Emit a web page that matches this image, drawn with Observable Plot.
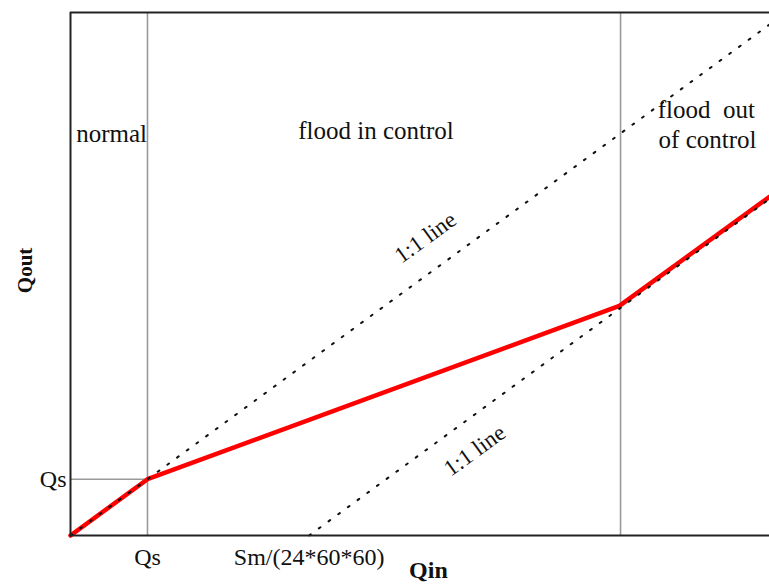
<!DOCTYPE html>
<html>
<head>
<meta charset="utf-8">
<script src="https://cdn.jsdelivr.net/npm/d3@7"></script>
<script src="https://cdn.jsdelivr.net/npm/@observablehq/plot@0.6"></script>
<style>
  html, body { margin: 0; padding: 0; background: #fff; }
</style>
</head>
<body>
<div id="chart"></div>
<script>
// ---- data (arbitrary units, Qs = 10) ----
const qs = 10;
const sm = 31;                 // Sm/(24*60*60)
const xMax = 90.8;
const yMax = 92.94;
const outflowX = [0, 10, 71.3, 90.8];
const outflowY = [0, 10, 40.8, 60.2];
const lineAX = [0, 90.8];
const lineAY = [0, 90.8];
const lineBX = [31, 90.8];
const lineBY = [0, 59.8];
const regionBounds = [10, 71.45];
const regionLabels = ["normal", "flood in control", "flood\u00a0 out", "of control"];
const regionLabelX = [5.33, 39.68, 82.6, 82.75];
const regionLabelY = [71.26, 71.87, 75.7, 70.2];
const lineLabels = ["1:1 line", "1:1 line"];
const lineLabelX = [46.1, 52.5];
const lineLabelY = [52.96, 15.1];

const outflow = outflowX.map((x, i) => ({x, y: outflowY[i]}));
const lineA = lineAX.map((x, i) => ({x, y: lineAY[i]}));
const lineB = lineBX.map((x, i) => ({x, y: lineBY[i]}));
const regions = regionLabels.map((t, i) => ({t, x: regionLabelX[i], y: regionLabelY[i]}));
const lines = lineLabels.map((t, i) => ({t, x: lineLabelX[i], y: lineLabelY[i]}));

const serif = "Liberation Serif, Times New Roman, serif";

const chart = Plot.plot({
  width: 769,
  height: 586,
  marginLeft: 70,
  marginRight: 0,
  marginTop: 12,
  marginBottom: 51,
  x: {domain: [0, xMax], axis: null},
  y: {domain: [0, yMax], axis: null},
  style: {fontFamily: serif, background: "#fff", overflow: "hidden"},
  marks: [
    // region boundaries
    Plot.ruleX(regionBounds, {y1: 0, y2: yMax, stroke: "#9a9a9a", strokeWidth: 1.6}),
    Plot.ruleY([qs], {x1: 0, x2: qs, stroke: "#9a9a9a", strokeWidth: 1.6}),
    // outflow curve
    Plot.line(outflow, {x: "x", y: "y", stroke: "#ff0000", strokeWidth: 4.5, strokeLinejoin: "round"}),
    // 1:1 lines (dotted)
    Plot.line(lineA, {x: "x", y: "y", stroke: "#111", strokeWidth: 2, strokeDasharray: "2 10"}),
    Plot.line(lineB, {x: "x", y: "y", stroke: "#111", strokeWidth: 2, strokeDasharray: "2 10"}),
    // frame
    Plot.ruleX([0], {stroke: "#222", strokeWidth: 2}),
    Plot.ruleY([0], {stroke: "#222", strokeWidth: 2}),
    Plot.ruleY([yMax], {stroke: "#222", strokeWidth: 2}),
    // labels
    Plot.text(regions, {x: "x", y: "y", text: "t", fontSize: 25, fill: "#111", textAnchor: "middle", lineAnchor: "middle"}),
    Plot.text(lines, {x: "x", y: "y", text: "t", fontSize: 23, fill: "#111", rotate: -36, textAnchor: "middle", lineAnchor: "middle"}),
    // tick-like labels
    Plot.text(["Qs"], {x: 0, y: qs, text: d => d, dx: -4, fontSize: 24, fill: "#111", textAnchor: "end", lineAnchor: "middle"}),
    Plot.text(["Qs"], {x: qs, y: 0, text: d => d, dy: 12, fontSize: 24, fill: "#111", textAnchor: "middle", lineAnchor: "top"}),
    Plot.text(["Sm/(24*60*60)"], {x: sm, y: 0, text: d => d, dy: 12, fontSize: 24, fill: "#111", textAnchor: "middle", lineAnchor: "top"}),
    // axis titles
    Plot.text(["Qin"], {x: 46.5, y: 0, text: d => d, dy: 25, fontSize: 24, fontWeight: "bold", fill: "#111", textAnchor: "middle", lineAnchor: "top"}),
    Plot.text(["Qout"], {x: 0, y: 47.1, text: d => d, dx: -45, fontSize: 21, fontWeight: "bold", fill: "#111", rotate: -90, textAnchor: "middle", lineAnchor: "middle"})
  ]
});
document.getElementById("chart").appendChild(chart);
</script>
</body>
</html>
